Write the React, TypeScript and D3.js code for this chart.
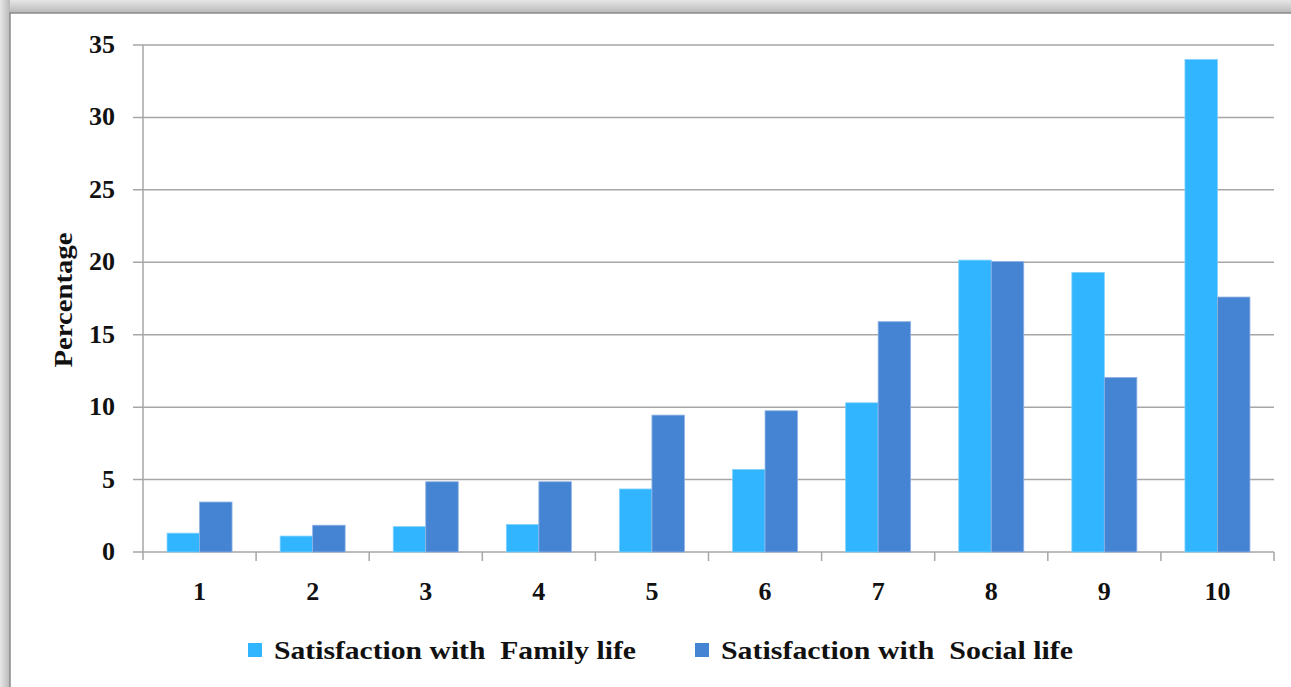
import React from "react";
import * as d3 from "d3";

const categories = ["1", "2", "3", "4", "5", "6", "7", "8", "9", "10"];
const familyLife = [1.3, 1.1, 1.75, 1.9, 4.35, 5.7, 10.3, 20.15, 19.3, 34.0];
const socialLife = [3.45, 1.85, 4.85, 4.85, 9.45, 9.75, 15.9, 20.05, 12.05, 17.6];
const yTicks = [0, 5, 10, 15, 20, 25, 30, 35];
const seriesNames = ["Satisfaction with  Family life", "Satisfaction with  Social life"];
const colors = ["#31B5FE", "#4584D3"];

export default function App() {
  const W = 1291, H = 687;
  const left = 143, right = 1274, top = 45, bottom = 552;
  const x = d3.scaleBand<string>().domain(categories).range([left, right]).paddingInner(0).paddingOuter(0);
  const y = d3.scaleLinear().domain([0, 35]).range([bottom, top]);
  const bw = x.bandwidth();
  const barW = 32.5;
  const series = [familyLife, socialLife];
  const font = "'Liberation Serif', 'Times New Roman', serif";
  const legend = [
    { x: 248, len: 362 },
    { x: 695, len: 352 },
  ];
  return (
    <svg width={W} height={H} style={{ position: "absolute", left: 0, top: 0, display: "block" }}>
      <defs>
        <linearGradient id="shTop" x1="0" y1="0" x2="0" y2="1">
          <stop offset="0" stopColor="#e6e6e6" />
          <stop offset="1" stopColor="#b8b8b8" />
        </linearGradient>
        <linearGradient id="shLeft" x1="0" y1="0" x2="1" y2="0">
          <stop offset="0" stopColor="#e6e6e6" />
          <stop offset="1" stopColor="#b8b8b8" />
        </linearGradient>
      </defs>
      <rect x={0} y={0} width={W} height={H} fill="#ffffff" />
      <rect x={0} y={0} width={W} height={13} fill="url(#shTop)" />
      <rect x={0} y={0} width={10} height={H} fill="url(#shLeft)" />
      <rect x={10} y={13} width={W} height={H} fill="#ffffff" stroke="#8a8a8a" strokeWidth={1.5} />
      {yTicks.map((t) => (
        <g key={t}>
          <line x1={133} x2={right} y1={y(t)} y2={y(t)} stroke="#a6a6a6" strokeWidth={1.5} />
          <text x={115} y={y(t) + 8} textAnchor="end" fontFamily={font} fontWeight="bold" fontSize={26} fill="#111">{t}</text>
        </g>
      ))}
      <line x1={left} x2={left} y1={top} y2={bottom + 8} stroke="#a6a6a6" strokeWidth={1.5} />
      {categories.map((c) => (
        <line key={c} x1={(x(c) as number) + bw} x2={(x(c) as number) + bw} y1={bottom} y2={bottom + 9} stroke="#a6a6a6" strokeWidth={1.5} />
      ))}
      {categories.map((c, i) => {
        const cx = (x(c) as number) + bw / 2;
        return (
          <g key={c}>
            {series.map((s, k) => (
              <rect key={k} x={cx - barW + k * barW} y={y(s[i])} width={barW} height={bottom - y(s[i])}
                fill={colors[k]} stroke={k === 0 ? "#7fd0ff" : "#8fb2e4"} strokeWidth={0.8} />
            ))}
            <text x={cx} y={600} textAnchor="middle" fontFamily={font} fontWeight="bold" fontSize={26} fill="#111">{c}</text>
          </g>
        );
      })}
      <text transform={`translate(72,300) rotate(-90)`} textAnchor="middle" fontFamily={font} fontWeight="bold" fontSize={26}
        textLength={135} lengthAdjust="spacingAndGlyphs" fill="#111">Percentage</text>
      {seriesNames.map((n, k) => {
        const lx = legend[k].x;
        return (
          <g key={n}>
            <rect x={lx} y={643} width={14} height={14} fill={colors[k]} />
            <text x={lx + 26} y={659} fontFamily={font} fontWeight="bold" fontSize={26} fill="#111"
              textLength={legend[k].len} lengthAdjust="spacingAndGlyphs" style={{ whiteSpace: "pre" }}>{n}</text>
          </g>
        );
      })}
    </svg>
  );
}
